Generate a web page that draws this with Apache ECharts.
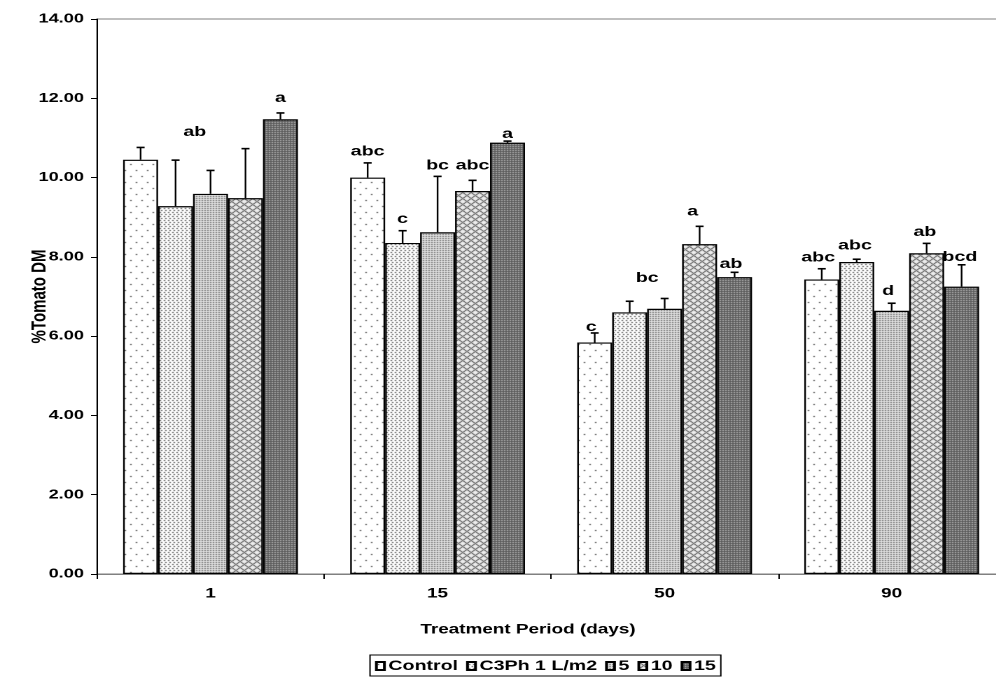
<!DOCTYPE html>
<html><head><meta charset="utf-8">
<script src="https://cdn.jsdelivr.net/npm/echarts@6/dist/echarts.min.js"></script>
<style>
html,body{margin:0;padding:0;background:#fff;overflow:hidden;width:996px;height:684px}
#wrap{width:996px;height:684px;overflow:hidden;position:relative}
#c{position:absolute;left:0;top:0;height:684px;transform-origin:0 0}
</style>
</head><body><div id="wrap"><div id="c"></div></div>
<script>
// ---- data ----
var categories = ['1', '15', '50', '90'];
var seriesNames = ['Control', 'C3Ph 1 L/m2', '5', '10', '15'];
var valControl = [10.45, 10.00, 5.84, 7.43];
var valC3Ph    = [9.28, 8.35, 6.60, 7.87];
var val5       = [9.59, 8.62, 6.69, 6.64];
var val10      = [9.48, 9.66, 8.32, 8.09];
var val15      = [11.47, 10.88, 7.49, 7.25];
var errControl = [10.76, 10.37, 6.08, 7.70];
var errC3Ph    = [10.44, 8.66, 6.88, 7.94];
var err5       = [10.18, 10.03, 6.95, 6.83];
var err10      = [10.73, 9.93, 8.77, 8.34];
var err15      = [11.63, 10.92, 7.61, 7.80];
// significance letters: category index, bar slot, text, value at text bottom
var labelCat  = [0, 0, 1, 1, 1, 1, 1, 2, 2, 2, 2, 3, 3, 3, 3, 3];
var labelSlot = [1.55, 4, 0, 1, 2, 3, 4, -0.1, 1.5, 2.8, 3.9, -0.1, 0.95, 1.9, 2.95, 3.95];
var labelText = ['ab', 'a', 'abc', 'c', 'bc', 'abc', 'a', 'c', 'bc', 'a', 'ab', 'abc', 'abc', 'd', 'ab', 'bcd'];
var labelY    = [11.04, 11.9, 10.55, 8.85, 10.2, 10.2, 11.0, 6.13, 7.36, 9.04, 7.72, 7.88, 8.18, 7.03, 8.52, 7.89];
var yTicks = [0, 2, 4, 6, 8, 10, 12, 14];

var values = [valControl, valC3Ph, val5, val10, val15];
var errs = [errControl, errC3Ph, err5, err10, err15];

// The reference figure is horizontally stretched: draw in a narrower frame and stretch it.
var K = 1.4;
function X(px) { return px / K; }
var el = document.getElementById('c');
el.style.width = X(1012) + 'px';
el.style.transform = 'scaleX(' + K + ')';

// ---- patterns ----
function makePattern(w, h, bg, fg, pts) {
  var cv = document.createElement('canvas');
  cv.width = w; cv.height = h;
  var ctx = cv.getContext('2d');
  ctx.fillStyle = bg; ctx.fillRect(0, 0, w, h);
  ctx.fillStyle = fg;
  for (var i = 0; i < pts.length; i++) ctx.fillRect(pts[i][0], pts[i][1], 1, 1);
  return { image: cv, repeat: 'repeat' };
}
var crossPts = [];
(function(){
  for (var i = 0; i < 6; i++) { crossPts.push([i, i]); crossPts.push([i, (6 - i) % 6]); }
})();
var patterns = [
  makePattern(8, 12, '#ffffff', '#222222', [[1, 2], [5, 8]]),
  makePattern(3, 4, '#ffffff', '#333333', [[0, 0], [1, 2]]),
  makePattern(2, 2, '#e4e4e4', '#555555', [[0, 0]]),
  makePattern(6, 6, '#ececec', '#3a3a3a', crossPts),
  makePattern(2, 2, '#595959', '#c8c8c8', [[0, 0]])
];

var FONT = '"Liberation Sans", Arial, sans-serif';
var GAP = 0.23;

function slotX(api, cat, slot) {
  var cx = api.coord([cat, 0])[0];
  var bw = api.size([1, 0])[0] * (1 - GAP) / 5;
  return cx + (slot - 2) * bw;
}

var series = [];
for (var s = 0; s < 5; s++) {
  series.push({
    name: seriesNames[s], type: 'bar', data: values[s],
    barGap: '0%', barCategoryGap: (GAP * 100) + '%',
    itemStyle: { color: patterns[s], borderColor: '#000', borderWidth: 1.2 },
    z: 2
  });
}
var errData = [];
for (var s2 = 0; s2 < 5; s2++) for (var c = 0; c < 4; c++) errData.push([c, s2, values[s2][c], errs[s2][c]]);
series.push({
  type: 'custom', name: 'err', silent: true, z: 5,
  data: errData,
  encode: { x: 0, y: 3 },
  renderItem: function (params, api) {
    var cat = api.value(0), slot = api.value(1);
    var x = slotX(api, cat, slot);
    var y0 = api.coord([cat, api.value(2)])[1];
    var y1 = api.coord([cat, api.value(3)])[1];
    return { type: 'group', children: [
      { type: 'line', shape: { x1: x, y1: y0, x2: x, y2: y1 }, style: { stroke: '#000', lineWidth: 1.2 } },
      { type: 'line', shape: { x1: x - X(4), y1: y1, x2: x + X(4), y2: y1 }, style: { stroke: '#000', lineWidth: 1.6 } }
    ]};
  }
});
var lblData = [];
for (var k = 0; k < labelText.length; k++) lblData.push([labelCat[k], labelSlot[k], labelY[k], labelText[k]]);
series.push({
  type: 'custom', name: 'letters', silent: true, z: 6,
  data: lblData,
  encode: { x: 0, y: 2 },
  renderItem: function (params, api) {
    var cat = api.value(0), slot = api.value(1);
    var x = slotX(api, cat, slot);
    var y = api.coord([cat, api.value(2)])[1];
    return { type: 'text', style: { x: x, y: y + 3, text: lblData[params.dataIndex][3], textAlign: 'center', textVerticalAlign: 'bottom', font: 'bold 14px ' + FONT, fill: '#000' } };
  }
});

var chart = echarts.init(el, null, { renderer: 'canvas', devicePixelRatio: 2 });
chart.setOption({
  animation: false,
  backgroundColor: '#fff',
  grid: { left: X(97), top: 19, bottom: 110, right: X(1012 - 1005), containLabel: false, outerBoundsMode: 'none',
          show: true, borderColor: '#808080', borderWidth: 1, backgroundColor: 'transparent' },
  xAxis: {
    type: 'category', data: categories,
    axisLine: { lineStyle: { color: '#808080', width: 1 } },
    axisTick: { show: true, length: 5, lineStyle: { color: '#000' } },
    axisLabel: { color: '#000', fontFamily: FONT, fontWeight: 'bold', fontSize: 13.5, margin: 13 }
  },
  yAxis: {
    type: 'value', min: yTicks[0], max: yTicks[yTicks.length - 1], interval: 2,
    name: '%Tomato DM', nameLocation: 'middle', nameGap: X(47), nameRotate: 90, nameMoveOverlap: false,
    nameTextStyle: { color: '#000', fontFamily: FONT, fontWeight: 'bold', fontSize: 15 },
    axisLine: { show: true, lineStyle: { color: '#000', width: 1 } },
    axisTick: { show: true, length: X(6), lineStyle: { color: '#000' } },
    splitLine: { show: false },
    axisLabel: { color: '#000', fontFamily: FONT, fontWeight: 'bold', fontSize: 13, margin: X(13), formatter: function (v) { return v.toFixed(2); } }
  },
  legend: {
    data: seriesNames, left: X(370), bottom: 8, icon: 'rect', itemWidth: X(8), itemHeight: 8, itemGap: X(8),
    borderColor: '#000', borderWidth: 1, borderRadius: 0, padding: [4, X(5), 3, X(5)],
    textStyle: { color: '#000', fontFamily: FONT, fontWeight: 'bold', fontSize: 14, padding: [0, 0, 0, -X(3)] }
  },
  graphic: [{
    type: 'text', x: X(528), y: 630,
    style: { text: 'Treatment Period (days)', font: 'bold 13.5px ' + FONT, fill: '#000', textAlign: 'center', textVerticalAlign: 'middle' }
  }],
  series: series
});
</script></body></html>
